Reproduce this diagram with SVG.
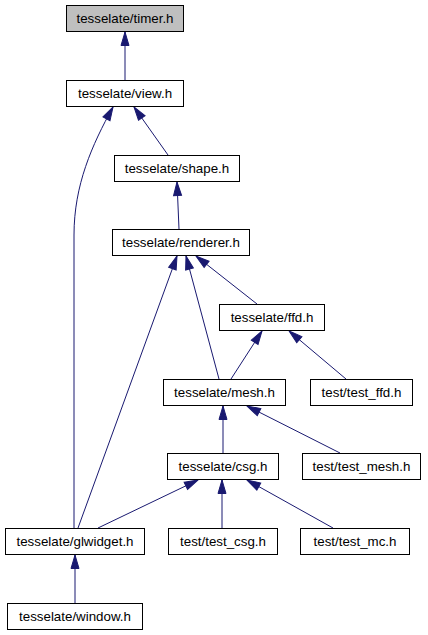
<svg xmlns="http://www.w3.org/2000/svg" width="428" height="635" viewBox="0 0 428 635">
<style>
.n rect{fill:#fff;stroke:#000;stroke-width:1}
.n.cur rect{fill:#bfbfbf}
.n text{font-family:"Liberation Sans",Arial,sans-serif;font-size:13.33px;text-anchor:middle;fill:#000}
.e path{fill:none;stroke:#191970;stroke-width:1;marker-end:url(#ah)}
</style>
<defs>
<marker id="ah" markerUnits="userSpaceOnUse" markerWidth="16" markerHeight="11" refX="14" refY="5" orient="auto" overflow="visible">
<path d="M0.5,1 L14,5 L0.5,9 z" fill="#191970" stroke="#191970" stroke-width="1"/>
</marker>
</defs>
<rect width="428" height="635" fill="#fff"/>
<g id="edges" class="e">
<path d="M125,80 L125,32"/>
<path d="M74,528 L74,235 C74,185 92,145 113,107"/>
<path d="M168,155 L134,107"/>
<path d="M179,229 L177,182"/>
<path d="M78,528 L177,256"/>
<path d="M219,379 L186,256"/>
<path d="M257,304 L196,256"/>
<path d="M231,379 L262,331"/>
<path d="M346,379 L289,331"/>
<path d="M223,453 L223,406"/>
<path d="M340,453 L247,406"/>
<path d="M98,528 L198,480"/>
<path d="M222,528 L222,480"/>
<path d="M333,528 L247,480"/>
<path d="M75,603 L75,555"/>
</g>
<g id="timer" class="n cur"><rect x="66.5" y="5.5" width="117" height="26"/><text x="125" y="23">tesselate/timer.h</text></g>
<g id="view" class="n"><rect x="66.5" y="80.5" width="117" height="26"/><text x="125" y="98">tesselate/view.h</text></g>
<g id="shape" class="n"><rect x="114.5" y="155.5" width="125" height="26"/><text x="177" y="173">tesselate/shape.h</text></g>
<g id="renderer" class="n"><rect x="112.5" y="229.5" width="137" height="26"/><text x="181" y="247">tesselate/renderer.h</text></g>
<g id="ffd" class="n"><rect x="219.5" y="304.5" width="105" height="26"/><text x="272" y="322">tesselate/ffd.h</text></g>
<g id="mesh" class="n"><rect x="163.5" y="379.5" width="122" height="26"/><text x="224.5" y="397">tesselate/mesh.h</text></g>
<g id="test_ffd" class="n"><rect x="310.5" y="379.5" width="102" height="26"/><text x="361.5" y="397">test/test_ffd.h</text></g>
<g id="csg" class="n"><rect x="167.5" y="453.5" width="111" height="26"/><text x="223" y="471">tesselate/csg.h</text></g>
<g id="test_mesh" class="n"><rect x="302.5" y="453.5" width="118" height="26"/><text x="361.5" y="471">test/test_mesh.h</text></g>
<g id="glwidget" class="n"><rect x="5.5" y="528.5" width="139" height="26"/><text x="75" y="546">tesselate/glwidget.h</text></g>
<g id="test_csg" class="n"><rect x="168.5" y="528.5" width="109" height="26"/><text x="223" y="546">test/test_csg.h</text></g>
<g id="test_mc" class="n"><rect x="300.5" y="528.5" width="109" height="26"/><text x="355" y="546">test/test_mc.h</text></g>
<g id="window" class="n"><rect x="7.5" y="603.5" width="135" height="26"/><text x="75" y="621">tesselate/window.h</text></g>
</svg>
